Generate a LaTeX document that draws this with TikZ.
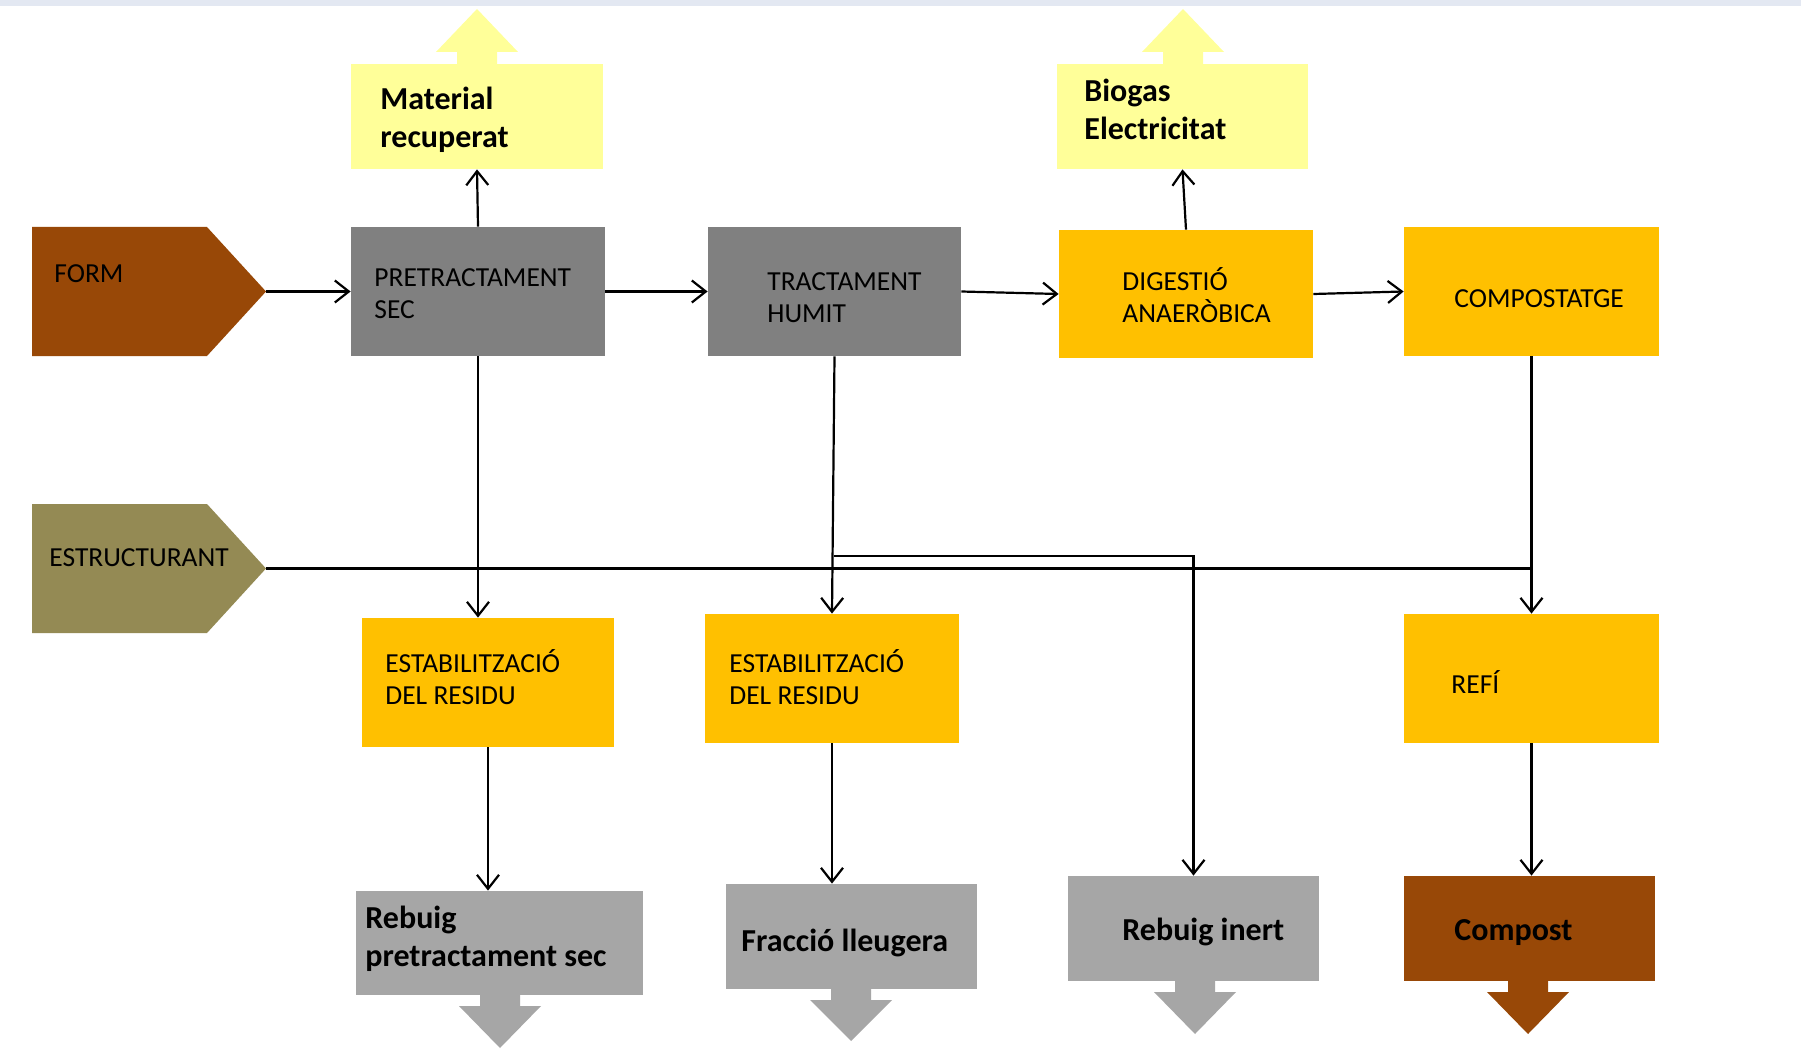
\documentclass[tikz,border=0pt]{standalone}
\usepackage{fontspec}
\setmainfont{Carlito}
\usepackage{tikz}
\usetikzlibrary{arrows.meta}
\definecolor{brownbox}{HTML}{984807}
\definecolor{darkgraybox}{HTML}{808080}
\definecolor{orangebox}{HTML}{FFC000}
\definecolor{paleyellow}{HTML}{FFFF99}
\definecolor{olivebox}{HTML}{948A54}
\definecolor{lightgraybox}{HTML}{A6A6A6}
\definecolor{topstrip}{HTML}{E3E8F2}
\tikzset{
	box/.style={rectangle, inner sep=0pt},
	wh/.style 2 args={minimum width=#1*0.5pt, minimum height=#2*0.5pt},
	lbl/.style={anchor=base west, inner sep=0pt, align=left, text=black,
		font=\fontsize{13.75}{16}\selectfont},
	blbl/.style={anchor=base west, inner sep=0pt, align=left, text=black,
		font=\fontsize{16}{19}\selectfont\bfseries},
	link/.style={line width=1.1pt, -{Straight Barb[length=7pt, width=11pt, line width=1.1pt]}},
	bar/.style={line width=1.7pt}
}

\begin{document}
\begin{tikzpicture}[x=0.5pt, y=-0.5pt]
		\fill[white] (0,0) rectangle (1801,1054);
		\useasboundingbox (0,0) rectangle (1801,1054);
		\fill[topstrip] (0,0) rectangle (1801,6);

		% input flags
		\fill[brownbox] (32,227) -- (207,227) -- (266,291.5) -- (207,356) -- (32,356) -- cycle;
		\fill[olivebox] (32,504) -- (207,504) -- (266,568.5) -- (207,633) -- (32,633) -- cycle;
		\coordinate (formtip) at (266,291.5);
		\coordinate (esttip) at (266,568.5);
		\node[lbl] at (54,283) (form) {FORM};
		\node[lbl] at (49,566) (est) {ESTRUCTURANT};

		% process boxes
		\node[box, fill=darkgraybox, wh={254}{129}] at (478,291.5) (pret) {};
		\node[box, fill=darkgraybox, wh={253}{129}] at (834.5,291.5) (tract) {};
		\node[box, fill=orangebox, wh={254}{128}] at (1186,294) (dig) {};
		\node[box, fill=orangebox, wh={255}{129}] at (1531.5,291.5) (comp) {};
		\node[box, fill=orangebox, wh={252}{129}] at (488,682.5) (stabA) {};
		\node[box, fill=orangebox, wh={254}{129}] at (832,678.5) (stabB) {};
		\node[box, fill=orangebox, wh={255}{129}] at (1531.5,678.5) (refi) {};

		% (base of a two-line label = its second line)
		\node[lbl] at (374,318) (pretT) {PRETRACTAMENT\\SEC};
		\node[lbl] at (767,322) (tractT) {TRACTAMENT\\HUMIT};
		\node[lbl] at (1122,322) (digT) {DIGESTIÓ\\ANAERÒBICA};
		\node[lbl] at (1454,307) (compT) {COMPOSTATGE};
		\node[lbl] at (385,704) (stabAT) {ESTABILITZACIÓ\\DEL RESIDU};
		\node[lbl] at (729,704) (stabBT) {ESTABILITZACIÓ\\DEL RESIDU};
		\node[lbl] at (1451,693) (refiT) {REFÍ};

		% outputs
		\fill[paleyellow] (457,65) -- (457,52) -- (436,52) -- (477,9) -- (518,52) -- (497,52) -- (497,65) -- cycle;
		\fill[paleyellow] (1163,65) -- (1163,52) -- (1142,52) -- (1183,9) -- (1224,52) -- (1203,52) -- (1203,65) -- cycle;
		\fill[lightgraybox] (480,994) -- (480,1006) -- (459,1006) -- (500,1048) -- (541,1006) -- (520,1006) -- (520,994) -- cycle;
		\fill[lightgraybox] (831,988) -- (831,1000) -- (810,1000) -- (851,1041) -- (892,1000) -- (871,1000) -- (871,988) -- cycle;
		\fill[lightgraybox] (1175,980) -- (1175,992) -- (1154,992) -- (1195,1034) -- (1236,992) -- (1215,992) -- (1215,980) -- cycle;
		\fill[brownbox] (1508,980) -- (1508,992) -- (1487,992) -- (1528,1034) -- (1569,992) -- (1548,992) -- (1548,980) -- cycle;

		\node[box, fill=paleyellow, wh={252}{105}] at (477,116.5) (mat) {};
		\node[box, fill=paleyellow, wh={251}{105}] at (1182.5,116.5) (bio) {};
		\node[box, fill=lightgraybox, wh={287}{104}] at (499.5,943) (rebA) {};
		\node[box, fill=lightgraybox, wh={251}{105}] at (851.5,936.5) (frac) {};
		\node[box, fill=lightgraybox, wh={251}{105}] at (1193.5,928.5) (inert) {};
		\node[box, fill=brownbox, wh={251}{105}] at (1529.5,928.5) (cpost) {};

		\node[blbl] at (380,148) (matT) {Material\\recuperat};
		\node[blbl] at (1084,140) (bioT) {Biogas\\Electricitat};
		\node[blbl] at (365,966) (rebAT) {Rebuig\\pretractament sec};
		\node[blbl] at (741,951) (fracT) {Fracció lleugera};
		\node[blbl] at (1122,940) (inertT) {Rebuig inert};
		\node[blbl] at (1454,940) (cpostT) {Compost};

		% main line
		\draw[link] (formtip) -- (pret.west);
		\draw[link] (pret.east) -- (tract.west);
		\draw[link] (tract.east) -- (dig.west);
		\draw[link] (dig.east) -- (comp.west);
		\draw[link] (pret.north) -- (mat.south);
		\draw[link] (dig.north) -- (bio.south);

		% structuring material
		\draw[bar] (esttip) -- (esttip -| comp.south);

		% downward flows
		\coordinate (split) at (833.5,556);
		\draw[link] (pret.south) -- (pret.south |- stabA.north);
		\draw[link] (tract.south) -- (stabB.north);
		\draw[link, line width=1.4pt] (split) -| (inert.north);
		\draw[link] (comp.south) -- (refi.north);
		\draw[link] (stabA.south) -- (stabA.south |- rebA.north);
		\draw[link] (stabB.south) -- (stabB.south |- frac.north);
		\draw[link] (refi.south) -- (refi.south |- cpost.north);
	\end{tikzpicture}
\end{document}
